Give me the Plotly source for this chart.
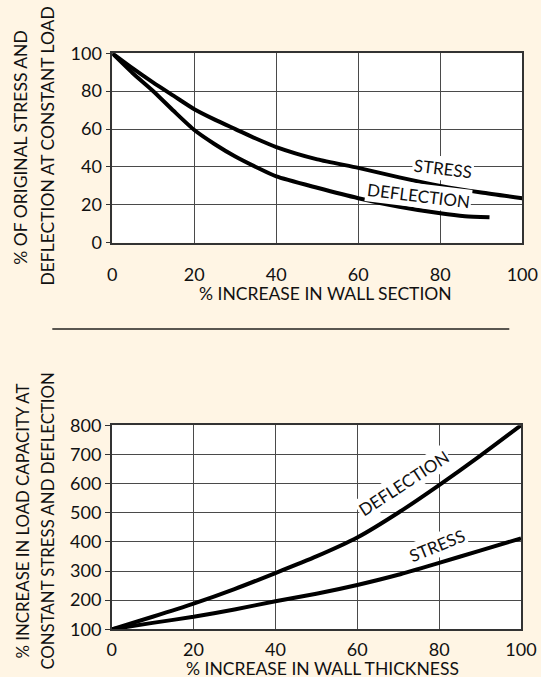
import plotly.graph_objs as go

# top chart: % of original stress / deflection at constant load
sect_x = [0, 5, 10, 15, 20, 25, 30, 35, 40, 50, 60, 70, 80, 90, 100]
sect_stress = [100, 92, 84.5, 77.5, 70.5, 65, 60, 55, 50.5, 44, 39.5, 34.5, 30, 26.5, 23.5]
defl_x = [0, 5, 10, 15, 20, 25, 30, 35, 40, 50, 60, 70, 80, 86, 92]
sect_defl = [100, 89.5, 80, 69.5, 59.5, 52, 45.5, 40, 35, 29, 23.5, 19, 15.5, 14, 13.5]

# bottom chart: % increase in load capacity
thick_x = [0, 10, 20, 30, 40, 50, 60, 70, 80, 90, 100]
thick_defl = [100, 143, 188, 238, 293, 350, 415, 500, 595, 695, 800]
thick_stress = [100, 122, 143, 168, 196, 222, 252, 287, 328, 370, 412]

x_ticks = [0, 20, 40, 60, 80, 100]
y_ticks_top = [0, 20, 40, 60, 80, 100]
y_ticks_bot = [100, 200, 300, 400, 500, 600, 700, 800]

W, H = 541, 677
FONT = "Lato"
bg = "#FFF5E4"
grid = "#4a4a4a"

fig = go.Figure()

line = dict(color="black", width=4, shape="spline", smoothing=0.6)
fig.add_trace(go.Scatter(x=sect_x, y=sect_stress, mode="lines", line=line,
                         xaxis="x", yaxis="y", cliponaxis=False, name="STRESS"))
fig.add_trace(go.Scatter(x=defl_x, y=sect_defl, mode="lines", line=line,
                         xaxis="x", yaxis="y", cliponaxis=False, name="DEFLECTION"))
fig.add_trace(go.Scatter(x=thick_x, y=thick_defl, mode="lines", line=line,
                         xaxis="x2", yaxis="y2", cliponaxis=False, name="DEFLECTION"))
fig.add_trace(go.Scatter(x=thick_x, y=thick_stress, mode="lines", line=line,
                         xaxis="x2", yaxis="y2", cliponaxis=False, name="STRESS"))

ax = dict(showgrid=True, gridcolor=grid, gridwidth=1.3, zeroline=False,
          showline=True, linecolor="#333333", linewidth=1.5, mirror=True,
          automargin=False,
          tickfont=dict(family=FONT, size=18, color="#111111"))

fig.update_layout(
    width=W, height=H,
    paper_bgcolor=bg, plot_bgcolor="white",
    margin=dict(l=0, r=0, t=0, b=0),
    showlegend=False,
    xaxis=dict(ax, domain=[112.3 / W, 522.3 / W], range=[0, 100], tickvals=x_ticks,
               anchor="y", ticks="", ticklabelstandoff=15),
    yaxis=dict(ax, domain=[(H - 242.7) / H, (H - 53.3) / H], range=[0, 100],
               tickvals=y_ticks_top, anchor="x", ticks="outside", ticklen=5,
               tickcolor="#333333"),
    xaxis2=dict(ax, domain=[111.7 / W, 521 / W], range=[0, 100], tickvals=x_ticks,
                anchor="y2", ticks="", ticklabelstandoff=3),
    yaxis2=dict(ax, domain=[(H - 629.3) / H, (H - 425.3) / H], range=[100, 800],
                tickvals=y_ticks_bot, anchor="x2", ticks="outside", ticklen=5,
                tickcolor="#333333"),
)

# separator between the two charts
fig.add_shape(type="line", xref="paper", yref="paper",
              x0=52.3 / W, x1=509.3 / W, y0=(H - 329) / H, y1=(H - 329) / H,
              line=dict(color="#5a5650", width=2))

txt = dict(family=FONT, size=17.5, color="#111111")
txt_small = dict(family=FONT, size=16.8, color="#111111")


def note(text, px, py, angle=0, font=txt):
    fig.add_annotation(text=text, xref="paper", yref="paper", x=px / W, y=(H - py) / H,
                       xanchor="center", yanchor="middle", showarrow=False,
                       textangle=angle, font=font)


# axis titles
note("% OF ORIGINAL STRESS AND", 20.7, 147, -90)
note("DEFLECTION AT CONSTANT LOAD", 46.6, 146, -90)
note("% INCREASE IN WALL SECTION", 325, 294)
note("% INCREASE IN LOAD CAPACITY AT", 22.4, 521, -90, txt_small)
note("CONSTANT STRESS AND DEFLECTION", 46.6, 521, -90, txt_small)
note("% INCREASE IN WALL THICKNESS", 322, 668)

# curve labels
lab = dict(family=FONT, size=17, color="#111111")
fig.add_annotation(text="STRESS", x=80.7, y=39.4, xref="x", yref="y", showarrow=False,
                   textangle=7, font=lab, bgcolor="white", borderpad=1)
fig.add_annotation(text="DEFLECTION", x=74.6, y=24.8, xref="x", yref="y", showarrow=False,
                   textangle=7, font=lab, bgcolor="white", borderpad=1)
fig.add_annotation(text="DEFLECTION", x=71.2, y=601, xref="x2", yref="y2", showarrow=False,
                   textangle=-33, font=lab, bgcolor="white", borderpad=1)
fig.add_annotation(text="STRESS", x=79.5, y=387, xref="x2", yref="y2", showarrow=False,
                   textangle=-22, font=lab, bgcolor="white", borderpad=1)

# page body has a default 8px margin; drop it so the figure fills the window
fig.write_html("out.html", config={"displayModeBar": False},
               post_script="document.body.style.margin='0';"
                           "document.body.style.background='" + bg + "';")
